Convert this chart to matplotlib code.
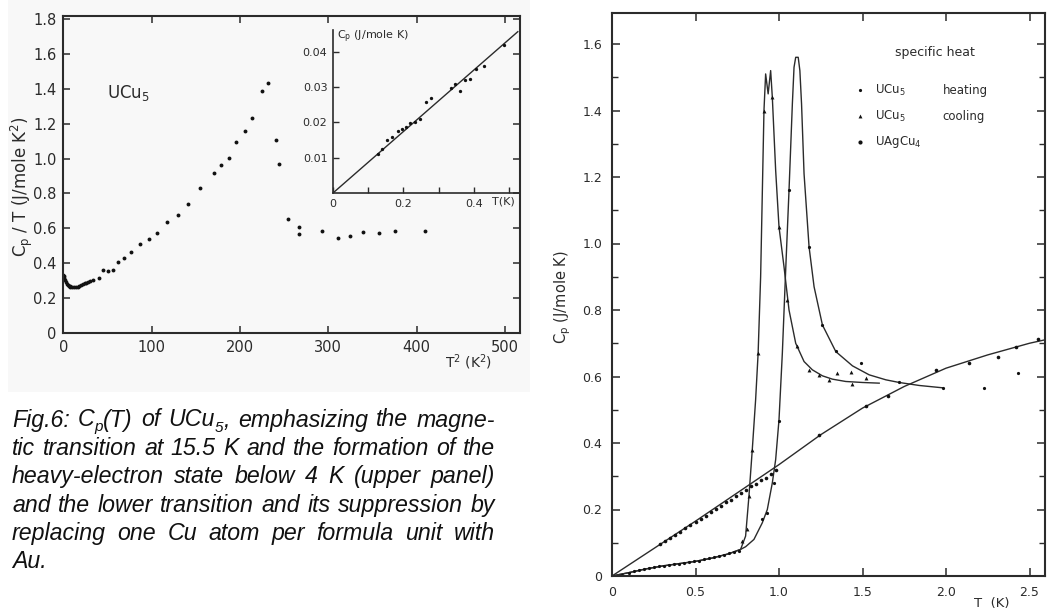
import re
import matplotlib
matplotlib.use("Agg")
import matplotlib.pyplot as plt
from matplotlib.patches import Rectangle

# ---------------- data: upper-left panel (Cp/T vs T^2 of UCu5) ----------------
t2_main = [0, 0.5, 1, 2, 3, 4, 5, 6, 7, 8, 10, 12, 14, 16, 18, 20, 22, 24, 26, 28,
           30, 34, 40, 45, 50, 56, 62, 69, 77, 87, 97, 106, 117, 130, 141, 155, 170,
           179, 188, 196, 206, 214, 225, 232, 241, 244, 254, 267, 267, 293, 311, 325,
           339, 357, 375, 410]
cpt_main = [0.335, 0.328, 0.318, 0.302, 0.290, 0.281, 0.274, 0.270, 0.267, 0.265, 0.264,
            0.263, 0.264, 0.266, 0.270, 0.274, 0.279, 0.284, 0.289, 0.293, 0.297, 0.305,
            0.318, 0.363, 0.353, 0.359, 0.407, 0.429, 0.464, 0.510, 0.538, 0.573, 0.634,
            0.678, 0.741, 0.830, 0.916, 0.964, 1.002, 1.098, 1.161, 1.235, 1.390, 1.436,
            1.107, 0.970, 0.653, 0.609, 0.566, 0.585, 0.543, 0.558, 0.577, 0.575, 0.585,
            0.587]
main_xticks = [0, 100, 200, 300, 400, 500]
main_yticks = [0, 0.2, 0.4, 0.6, 0.8, 1.0, 1.2, 1.4, 1.6, 1.8]
main_ylabels = ["0", "0.2", "0.4", "0.6", "0.8", "1.0", "1.2", "1.4", "1.6", "1.8"]

# inset: Cp vs T
t_in = [0.128, 0.140, 0.153, 0.168, 0.185, 0.197, 0.206, 0.218, 0.232, 0.248, 0.265,
        0.277, 0.336, 0.346, 0.360, 0.374, 0.390, 0.407, 0.428, 0.485]
cp_in = [0.0111, 0.0125, 0.0149, 0.0158, 0.0177, 0.0182, 0.0187, 0.0198, 0.0201, 0.0210,
         0.0257, 0.0269, 0.0298, 0.0308, 0.0289, 0.0321, 0.0324, 0.0352, 0.0361, 0.0418]
t_in_fit = [0.0, 0.525]
cp_in_fit = [0.0, 0.0457]
in_xticks = [0, 0.1, 0.2, 0.3, 0.4, 0.5]
in_xlabels = ["0", "", "0.2", "", "0.4", ""]
in_yticks = [0.01, 0.02, 0.03, 0.04]
in_ylabels = ["0.01", "0.02", "0.03", "0.04"]

# ---------------- data: right panel (Cp vs T) ----------------
agcu_T = [0.29, 0.32, 0.35, 0.38, 0.41, 0.44, 0.47, 0.50, 0.53, 0.56, 0.59, 0.62, 0.65,
          0.68, 0.71, 0.74, 0.77, 0.80, 0.83, 0.86, 0.89, 0.92, 0.95, 0.98, 1.24, 1.52,
          1.65, 1.94, 2.14, 2.31, 2.42, 2.55]
agcu_Cp = [0.097, 0.105, 0.113, 0.124, 0.132, 0.143, 0.152, 0.161, 0.172, 0.180, 0.191,
           0.201, 0.210, 0.222, 0.229, 0.240, 0.251, 0.259, 0.270, 0.277, 0.288, 0.296,
           0.307, 0.318, 0.425, 0.511, 0.540, 0.620, 0.642, 0.660, 0.690, 0.713]
agcu_fit_T = [0.0, 0.5, 1.0, 1.25, 1.5, 1.75, 2.0, 2.25, 2.5, 2.59]
agcu_fit_Cp = [0.0, 0.165, 0.335, 0.425, 0.505, 0.570, 0.625, 0.665, 0.700, 0.710]

heat_T = [0.06, 0.10, 0.13, 0.16, 0.19, 0.22, 0.25, 0.28, 0.31, 0.34, 0.37, 0.40, 0.43,
          0.46, 0.49, 0.52, 0.55, 0.58, 0.61, 0.64, 0.67, 0.70, 0.73, 0.76, 0.90, 0.93,
          0.97, 1.00, 1.06, 1.18, 1.26, 1.34, 1.49, 1.72, 1.98, 2.23, 2.43]
heat_Cp = [0.004, 0.010, 0.014, 0.018, 0.021, 0.024, 0.027, 0.029, 0.031, 0.033, 0.035,
           0.037, 0.040, 0.042, 0.044, 0.046, 0.050, 0.053, 0.057, 0.061, 0.064, 0.068,
           0.071, 0.076, 0.170, 0.190, 0.280, 0.465, 1.160, 0.990, 0.755, 0.678, 0.640,
           0.584, 0.566, 0.566, 0.610]

cool_T = [0.78, 0.81, 0.82, 0.84, 0.875, 0.91, 0.96, 1.00, 1.05, 1.11, 1.18, 1.24, 1.30,
          1.35, 1.43, 1.44, 1.52]
cool_Cp = [0.105, 0.140, 0.240, 0.380, 0.670, 1.400, 1.440, 1.050, 0.830, 0.692, 0.620,
           0.605, 0.590, 0.610, 0.614, 0.577, 0.594]

low_fit_T = [0.0, 0.1, 0.2, 0.3, 0.4, 0.5, 0.6, 0.7, 0.77]
low_fit_Cp = [0.0, 0.010, 0.021, 0.030, 0.037, 0.044, 0.054, 0.067, 0.080]
cool_fit_T = [0.80, 0.82, 0.84, 0.86, 0.875, 0.89, 0.91, 0.92, 0.935, 0.95, 0.96, 0.98,
              1.00, 1.03, 1.06, 1.10, 1.15, 1.20, 1.26, 1.32, 1.40, 1.50, 1.60]
cool_fit_Cp = [0.120, 0.240, 0.380, 0.530, 0.670, 0.900, 1.400, 1.510, 1.450, 1.520,
               1.440, 1.220, 1.050, 0.930, 0.800, 0.700, 0.645, 0.620, 0.602, 0.592,
               0.585, 0.582, 0.580]
heat_fit_T = [0.80, 0.85, 0.90, 0.93, 0.96, 0.98, 1.00, 1.02, 1.04, 1.06, 1.08, 1.09,
              1.10, 1.115, 1.125, 1.135, 1.15, 1.18, 1.21, 1.26, 1.34, 1.44, 1.54, 1.64,
              1.72, 1.84, 1.98]
heat_fit_Cp = [0.088, 0.110, 0.160, 0.200, 0.280, 0.350, 0.470, 0.670, 0.920, 1.160,
               1.420, 1.530, 1.560, 1.560, 1.520, 1.420, 1.210, 0.990, 0.870, 0.755,
               0.675, 0.632, 0.605, 0.590, 0.582, 0.573, 0.566]
r_xticks = [0, 0.5, 1.0, 1.5, 2.0, 2.5]
r_xlabels = ["0", "0.5", "1.0", "1.5", "2.0", "2.5"]
r_yticks = [0, 0.2, 0.4, 0.6, 0.8, 1.0, 1.2, 1.4, 1.6]
r_ylabels = ["0", "0.2", "0.4", "0.6", "0.8", "1.0", "1.2", "1.4", "1.6"]

caption = [
    "Fig.6: C_{p}(T) of UCu_{5}, emphasizing the magne-",
    "tic transition at 15.5 K and the formation of the",
    "heavy-electron state below 4 K (upper panel)",
    "and the lower transition and its suppression by",
    "replacing one Cu atom per formula unit with",
    "Au.",
]

# ---------------- figure ----------------
W, H = 1053, 609
fig = plt.figure(figsize=(W / 100, H / 100), dpi=100)
fig.patch.set_facecolor("white")
bg = Rectangle((8 / W, 1 - 392 / H), 522 / W, 392 / H, transform=fig.transFigure,
               facecolor="#f8f8f8", edgecolor="none", zorder=-5)
fig.add_artist(bg)

INK = "#2b2b2b"
FONT = "DejaVu Sans"


def px_axes(l, t, r, b):
    return [l / W, 1 - b / H, (r - l) / W, (b - t) / H]


# upper-left main axes
ax1 = fig.add_axes(px_axes(63.4, 16, 520, 333))
ax1.set_facecolor("none")
ax1.set_xlim(0, (520 - 63.4) / 0.883)
ax1.set_ylim(0, (333 - 16) / 174.4)
ax1.plot(t2_main, cpt_main, "o", ms=2.8, color="#111111", mec="none")
ax1.set_xticks(main_xticks)
ax1.set_xticklabels([str(v) for v in main_xticks])
ax1.set_yticks(main_yticks)
ax1.set_yticklabels(main_ylabels)
ax1.tick_params(direction="in", top=True, right=True, length=5, width=1.1,
                labelsize=10.5, colors=INK, pad=5)
for s in ax1.spines.values():
    s.set_linewidth(1.5)
    s.set_color(INK)
ax1.text(0.095, 0.757, "UCu$_5$", transform=ax1.transAxes, fontsize=12,
         color=INK, va="center", family=FONT)
fig.text(469 / W, 1 - 362 / H, "T$^2$ (K$^2$)", ha="center", va="center",
         fontsize=10, color=INK)
fig.text(22 / W, 1 - 187 / H, "C$_\\mathrm{p}$ / T (J/mole K$^2$)", rotation=90,
         ha="center", va="center", fontsize=12, color=INK)

# inset
x_in_max = 0.53
ax_in = fig.add_axes(px_axes(333, 30, 333 + x_in_max * 352, 193))
ax_in.set_facecolor("none")
ax_in.set_xlim(0, x_in_max)
ax_in.set_ylim(0, 163 / 3530)
ax_in.plot(t_in_fit, cp_in_fit, "-", color=INK, lw=1.0)
ax_in.plot(t_in, cp_in, "o", ms=2.4, color="#111111", mec="none")
ax_in.spines["top"].set_visible(False)
ax_in.spines["right"].set_visible(False)
for s in ("left", "bottom"):
    ax_in.spines[s].set_linewidth(1.2)
    ax_in.spines[s].set_color(INK)
ax_in.set_xticks(in_xticks)
ax_in.set_xticklabels(in_xlabels)
ax_in.set_yticks(in_yticks)
ax_in.set_yticklabels(in_ylabels)
ax_in.tick_params(direction="in", length=4, width=1, labelsize=8, colors=INK, pad=4)
ax_in.text(0.85, -0.055, "T(K)", transform=ax_in.transAxes, fontsize=8, color=INK,
           va="center", ha="left")
ax_in.text(0.02, 0.96, "C$_\\mathrm{p}$ (J/mole K)", transform=ax_in.transAxes,
           fontsize=8, color=INK, va="center", ha="left")

# right panel
ax2 = fig.add_axes(px_axes(612, 13, 1045, 576))
ax2.set_facecolor("none")
ax2.set_xlim(0, 433 / 167)
ax2.set_ylim(0, 563 / 332.5)
ax2.plot(agcu_fit_T, agcu_fit_Cp, "-", color=INK, lw=1.0)
ax2.plot(low_fit_T + cool_fit_T, low_fit_Cp + cool_fit_Cp, "-", color=INK, lw=1.0)
ax2.plot(low_fit_T + heat_fit_T, low_fit_Cp + heat_fit_Cp, "-", color=INK, lw=1.0)
ax2.plot(agcu_T, agcu_Cp, "o", ms=2.6, color="#111111", mec="none")
ax2.plot(heat_T, heat_Cp, "o", ms=2.3, color="#111111", mec="none")
ax2.plot(cool_T, cool_Cp, "^", ms=2.8, color="#111111", mec="none")
ax2.set_xticks(r_xticks)
ax2.set_xticklabels(r_xlabels)
ax2.set_yticks(r_yticks)
ax2.set_yticklabels(r_ylabels)
ax2.set_yticks([v / 10 for v in range(1, 17, 2)], minor=True)
ax2.tick_params(direction="in", top=True, right=True, length=6, width=1.1,
                labelsize=9, colors=INK, pad=7)
ax2.tick_params(which="minor", direction="in", left=True, right=True, length=4,
                width=1.0, colors=INK)
for s in ax2.spines.values():
    s.set_linewidth(1.5)
    s.set_color(INK)
fig.text(563 / W, 1 - 297 / H, "C$_\\mathrm{p}$ (J/mole K)", rotation=90,
         ha="center", va="center", fontsize=10.5, color=INK)
fig.text(992 / W, 1 - 603 / H, "T  (K)", ha="center", va="center", fontsize=9.5,
         color=INK)

# legend drawn as text
ax2.text(0.746, 0.929, "specific heat", transform=ax2.transAxes, ha="center",
         va="center", fontsize=9, color=INK)
leg_y = [0.863, 0.817, 0.771]
ax2.plot([0.573], [leg_y[0]], "o", ms=2.3, color="#111111", mec="none",
         transform=ax2.transAxes, clip_on=False)
ax2.plot([0.573], [leg_y[1]], "^", ms=2.8, color="#111111", mec="none",
         transform=ax2.transAxes, clip_on=False)
ax2.plot([0.573], [leg_y[2]], "o", ms=3.0, color="#111111", mec="none",
         transform=ax2.transAxes, clip_on=False)
for yy, lab, extra in zip(leg_y, ["UCu$_5$", "UCu$_5$", "UAgCu$_4$"],
                          ["heating", "cooling", ""]):
    ax2.text(0.607, yy, lab, transform=ax2.transAxes, ha="left", va="center",
             fontsize=8.5, color=INK)
    if extra:
        ax2.text(0.764, yy, extra, transform=ax2.transAxes, ha="left",
                 va="center", fontsize=8.5, color=INK)

# ---------------- caption (justified, italic) ----------------
fig.canvas.draw()
renderer = fig.canvas.get_renderer()
CAP_FONT = "Liberation Sans"
LEFT, RIGHT = 12, 495
BASE0, STEP = 426.5, 28.4


def parse_word(word):
    parts = re.split(r"_\{([^}]*)\}", word)
    return [(p, i % 2 == 1) for i, p in enumerate(parts) if p]


def measure(s, size):
    t = fig.text(0, 0, s, fontsize=size, family=CAP_FONT, style="italic")
    w = t.get_window_extent(renderer).width
    t.remove()
    return w


def natural_width(line, size):
    words = [parse_word(w) for w in line.split(" ")]
    sp = measure("a a", size) - measure("aa", size)
    tot = sum(measure(s, size * (0.66 if sub else 1)) for w in words for s, sub in w)
    return tot + sp * (len(words) - 1)


# size chosen so that the tightest line just fills the text column
ref_size = 15.0
widest = max(natural_width(l, ref_size) for l in caption[:-1])
CAP_SIZE = min(17.0, ref_size * (RIGHT - LEFT) / widest * 0.985)
SUB_SIZE = CAP_SIZE * 0.66

space_w = measure("a a", CAP_SIZE) - measure("aa", CAP_SIZE)
for li, line in enumerate(caption):
    words = [parse_word(w) for w in line.split(" ")]
    widths = [sum(measure(s, SUB_SIZE if sub else CAP_SIZE) for s, sub in w)
              for w in words]
    justify = li < len(caption) - 1 and len(words) > 1
    gap = (RIGHT - LEFT - sum(widths)) / (len(words) - 1) if justify else space_w
    x = LEFT
    base = BASE0 + li * STEP
    for w, ww in zip(words, widths):
        xx = x
        for s, sub in w:
            size = SUB_SIZE if sub else CAP_SIZE
            yb = base + (5 if sub else 0)
            fig.text(xx / W, 1 - yb / H, s, fontsize=size, family=CAP_FONT,
                     style="italic", color="#111111", ha="left", va="baseline")
            xx += measure(s, size)
        x += ww + gap

fig.savefig("out.png", dpi=100)
